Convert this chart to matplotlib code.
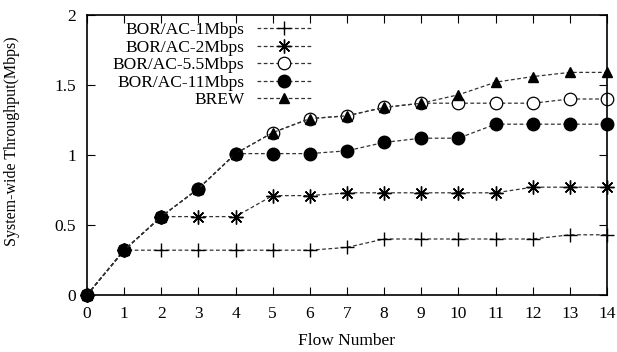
import numpy as np
import matplotlib
matplotlib.use('Agg')
import matplotlib.pyplot as plt

plt.rcParams['font.family'] = ['Liberation Serif', 'DejaVu Serif']

flows = list(range(15))
bor_1 = [0, 0.32, 0.32, 0.32, 0.32, 0.32, 0.32, 0.34, 0.40, 0.40, 0.40, 0.40, 0.40, 0.43, 0.43]
bor_2 = [0, 0.32, 0.56, 0.56, 0.56, 0.71, 0.71, 0.73, 0.73, 0.73, 0.73, 0.73, 0.77, 0.77, 0.77]
bor_55 = [0, 0.32, 0.56, 0.76, 1.01, 1.16, 1.26, 1.28, 1.34, 1.37, 1.37, 1.37, 1.37, 1.40, 1.40]
bor_11 = [0, 0.32, 0.56, 0.76, 1.01, 1.01, 1.01, 1.03, 1.09, 1.12, 1.12, 1.22, 1.22, 1.22, 1.22]
brew = [0, 0.32, 0.56, 0.76, 1.01, 1.16, 1.26, 1.28, 1.34, 1.37, 1.43, 1.52, 1.56, 1.59, 1.59]
labels = ['BOR/AC-1Mbps', 'BOR/AC-2Mbps', 'BOR/AC-5.5Mbps', 'BOR/AC-11Mbps', 'BREW']

fig = plt.figure(figsize=(6.17, 3.52), dpi=100)
ax = fig.add_axes([87/617, 1-295/352, 520/617, 280/352])

ls = dict(color='#333333', linestyle=(0, (3, 2)), linewidth=0.9, clip_on=False)
ax.plot(flows, bor_1, marker='+', ms=10, mew=1.0, mec='black', label=labels[0], **ls)
ax.plot(flows, bor_2, marker=(8, 2, 0), ms=10, mew=1.0, mec='black', label=labels[1], **ls)
ax.plot(flows, bor_55, marker='o', ms=9, mew=0.9, mec='black', mfc='white', label=labels[2], **ls)
ax.plot(flows, bor_11, marker='o', ms=9, mec='black', mfc='black', label=labels[3], **ls)
ax.plot(flows, brew, marker='^', ms=7, mec='black', mfc='black', label=labels[4], **ls)

ax.set_xlim(0, 14)
ax.set_ylim(0, 2)
ax.set_xticks(range(15))
ax.set_yticks([0, 0.5, 1, 1.5, 2])
ax.set_yticklabels(['0', '0.5', '1', '1.5', '2'])
ax.tick_params(direction='in', top=True, right=True, length=6, labelsize=12.5, pad=8)
for s in ax.spines.values():
    s.set_linewidth(1.2)
ax.set_xlabel('Flow Number', fontsize=12.5, labelpad=8)
ax.set_ylabel('System-wide Throughput(Mbps)', fontsize=11.5)
ax.yaxis.set_label_coords(-0.129, 0.55)

leg = ax.legend(loc='upper right', bbox_to_anchor=(0.433, 0.975), markerfirst=False, frameon=False,
                fontsize=12.5, handlelength=3.2, handletextpad=0.7, labelspacing=0.08,
                borderpad=0, borderaxespad=0)
for t in leg.get_texts():
    t.set_ha('right')
leg._legend_box.align = 'right'

fig.savefig('out.png', dpi=100)
